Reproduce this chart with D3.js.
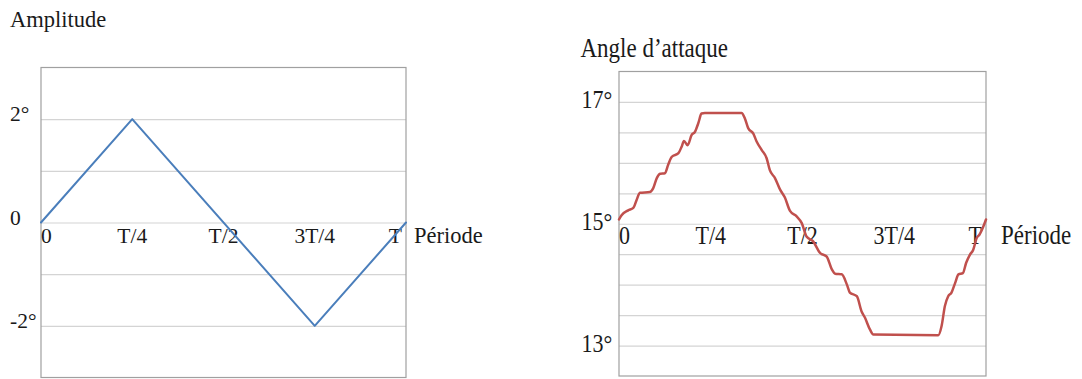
<!DOCTYPE html>
<html><head><meta charset="utf-8">
<script src="https://cdn.jsdelivr.net/npm/d3@7"></script>
<style>
html,body{margin:0;padding:0;background:#fff;}
svg{display:block;}
text{font-family:"Liberation Serif","Times New Roman",serif;fill:#1a1a1a;}
</style></head>
<body>
<svg id="c" width="1082" height="379"></svg>
<script>
// ---------- data ----------
const xTickLabels = ["0", "T/4", "T/2", "3T/4", "T"];
const xTickValues = [0, 0.25, 0.5, 0.75, 1];

// Left chart: amplitude (degrees) vs phase of period
const ampPhase = [0, 0.25, 0.75, 1];
const ampValues = [0, 2, -2, 0];
const ampGrid = [-2, -1, 0, 1, 2];
const ampLabelValues = [2, 0, -2];
const ampLabelTexts = ["2°", "0", "-2°"];

// Right chart: angle of attack (degrees) vs phase of period
const aoaPhase = [0, 0.007, 0.025, 0.039, 0.048, 0.057, 0.084, 0.093, 0.103, 0.112, 0.125, 0.134, 0.144, 0.162, 0.171, 0.177, 0.187, 0.198, 0.207, 0.216, 0.225, 0.234,
  0.334, 0.343, 0.352, 0.366, 0.375, 0.389, 0.402, 0.411, 0.425, 0.439, 0.452, 0.466, 0.484, 0.498, 0.511, 0.529, 0.548, 0.566, 0.580, 0.589, 0.607, 0.621, 0.629, 0.648, 0.661, 0.670, 0.684, 0.693,
  0.870, 0.879, 0.888, 0.897, 0.906, 0.916, 0.925, 0.937, 0.946, 0.956, 0.965, 0.975, 0.982, 0.993, 1.0];
const aoaValues = [15.07, 15.14, 15.22, 15.26, 15.39, 15.51, 15.52, 15.58, 15.75, 15.82, 15.83, 15.97, 16.10, 16.16, 16.27, 16.36, 16.29, 16.46, 16.51, 16.65, 16.81, 16.82,
  16.82, 16.73, 16.57, 16.48, 16.35, 16.21, 16.08, 15.88, 15.75, 15.56, 15.43, 15.21, 15.12, 15.01, 14.79, 14.71, 14.52, 14.46, 14.25, 14.18, 14.17, 14.00, 13.87, 13.81, 13.56, 13.46, 13.26, 13.18,
  13.17, 13.32, 13.65, 13.81, 13.87, 14.03, 14.17, 14.19, 14.36, 14.49, 14.57, 14.77, 14.82, 14.96, 15.07];
const aoaGrid = [13, 13.5, 14, 14.5, 15, 15.5, 16, 16.5, 17];
const aoaLabelValues = [17, 15, 13];
const aoaLabelTexts = ["17°", "15°", "13°"];

// ---------- drawing ----------
const svg = d3.select("#c");

function drawChart(cfg) {
  const g = svg.append("g");
  const x = d3.scaleLinear().domain([0, 1]).range([cfg.x0, cfg.x1]);
  const y = d3.scaleLinear().domain(cfg.yDomain).range([cfg.yBottom, cfg.yTop]);
  const sy = cfg.textStretch;

  function txt(sel, tx, ty, s, anchor, size) {
    sel.append("text")
      .attr("transform", `translate(${tx},${ty}) scale(1,${sy})`)
      .attr("text-anchor", anchor)
      .attr("font-size", size)
      .text(s);
  }

  // gridlines via axis
  const grid = g.append("g")
    .attr("transform", `translate(${cfg.x0},0)`)
    .call(d3.axisLeft(y).tickValues(cfg.grid).tickSize(-(cfg.x1 - cfg.x0)).tickFormat(""));
  grid.select(".domain").remove();
  grid.selectAll(".tick line").attr("stroke", "#d4d4d4").attr("stroke-width", 1.2);

  // box
  g.append("rect")
    .attr("x", cfg.x0).attr("y", cfg.yTop)
    .attr("width", cfg.x1 - cfg.x0).attr("height", cfg.yBottom - cfg.yTop)
    .attr("fill", "none").attr("stroke", "#a0a0a0").attr("stroke-width", 1.2);

  // y labels
  cfg.labelValues.forEach((v, i) => {
    txt(g, cfg.yLabelX, y(v) + cfg.yLabelDy, cfg.labelTexts[i], "start", cfg.tickSize);
  });

  // x tick labels
  const baseY = y(cfg.xAxisAt) + 20;
  xTickValues.forEach((v, i) => {
    let anchor = "middle", dx = 0;
    if (i === 0) anchor = "start";
    if (i === xTickValues.length - 1) { anchor = "end"; dx = -4; }
    txt(g, x(v) + dx, baseY, xTickLabels[i], anchor, cfg.tickSize);
  });
  txt(g, cfg.x1 + cfg.periodGap, baseY, "Période", "start", cfg.tickSize + 1);

  // title
  txt(g, cfg.titleX, cfg.titleY, cfg.title, "start", cfg.titleSize);

  // line
  const pts = cfg.phase.map((p, i) => [p, cfg.values[i]]);
  g.append("path")
    .datum(pts)
    .attr("fill", "none")
    .attr("stroke", cfg.color)
    .attr("stroke-width", cfg.lineWidth)
    .attr("stroke-linejoin", "round")
    .attr("stroke-linecap", "round")
    .attr("d", d3.line().x(d => x(d[0])).y(d => y(d[1])).curve(cfg.curve));
}

drawChart({
  x0: 41, x1: 406, yTop: 67.5, yBottom: 377.5, yDomain: [-3, 3],
  grid: ampGrid, labelValues: ampLabelValues, labelTexts: ampLabelTexts,
  yLabelX: 10, yLabelDy: 2, xAxisAt: 0, periodGap: 8,
  tickSize: 21.5, titleSize: 22.5, textStretch: 1,
  title: "Amplitude", titleX: 10, titleY: 27,
  phase: ampPhase, values: ampValues, color: "#4a7ebb", lineWidth: 2,
  curve: d3.curveLinear
});

drawChart({
  x0: 619, x1: 986, yTop: 71.5, yBottom: 376, yDomain: [12.5, 17.5],
  grid: aoaGrid, labelValues: aoaLabelValues, labelTexts: aoaLabelTexts,
  yLabelX: 581.5, yLabelDy: 6, xAxisAt: 15, periodGap: 15,
  tickSize: 22, titleSize: 23, textStretch: 1.15,
  title: "Angle d’attaque", titleX: 580.5, titleY: 57,
  phase: aoaPhase, values: aoaValues, color: "#c0504d", lineWidth: 2.5,
  curve: d3.curveMonotoneX
});
</script>
</body></html>
